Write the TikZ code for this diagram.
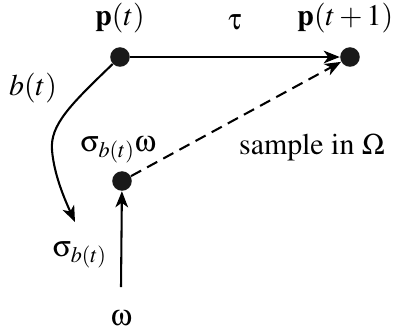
\documentclass[tikz,border=0pt]{standalone}
\usepackage[T1]{fontenc}
\usepackage{mathptmx}
\usepackage[Symbol]{upgreek}
\usetikzlibrary{arrows.meta, positioning}

\begin{document}
\begin{tikzpicture}[
            x=0.0153cm, y=-0.0153cm,
            dot/.style={circle, fill=black!90, inner sep=0pt, minimum size=8.5pt},
            lbl/.style={inner sep=1pt, font=\fontsize{13}{15}\selectfont},
            arrow/.style={-{Stealth[length=7pt, width=5.5pt, inset=2pt]}, line width=0.9pt}
        ]
            \useasboundingbox (0,0) rectangle (394,331);

            % Points
            \node[dot] (pt) at (120,57) {};
            \node[dot] (pnext) at (350,57) {};
            \node[dot] (noise) at (122,181) {};
            \coordinate (omstart) at (121,287);
            \coordinate (sigend) at (75,222);

            % Labels
            \node[lbl] (ptlbl) at (120,18) {$\mathbf{p}(t)$};
            \node[lbl, anchor=east] (pnextlbl) at (396,18) {$\mathbf{p}(t+1)$};
            \node[lbl] (taulbl) at (235,22) {$\uptau$};
            \node[lbl] (blbl) at (33,88) {$b(t)$};
            \node[lbl] (siglbl) at (80,255) {$\upsigma_{b(t)}$};
            \node[lbl] (sigomlbl) at (118,150) {$\upsigma_{b(t)}\upomega$};
            \node[lbl] (samplelbl) at (312,148) {sample in $\Omega$};
            \node[lbl] (omlbl) at (121,318) {$\upomega$};

            % Connectors
            \draw[arrow] (pt) -- (pnext);
            \draw[arrow, dash pattern=on 5pt off 3pt] (noise) -- (pnext);
            \draw[arrow] (omstart) -- (noise);
            \draw[arrow] (pt) .. controls (70,105) and (50,125) .. (52,150)
                .. controls (54,175) and (65,200) .. (sigend);

        \end{tikzpicture}
\end{document}
